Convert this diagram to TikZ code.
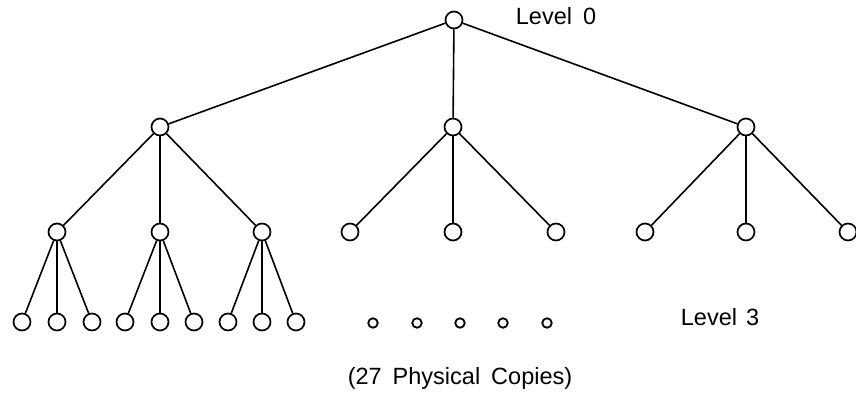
\documentclass[tikz,border=0pt]{standalone}
\usepackage{fontspec}
\setmainfont{Liberation Sans}
\begin{document}
\begin{tikzpicture}[x=1pt,y=-1pt,
  treenode/.style={circle,draw,line width=1.7pt,minimum size=17pt,inner sep=0pt,fill=white},
  copynode/.style={circle,draw,line width=1.8pt,minimum size=9.5pt,inner sep=0pt},
  branch/.style={line width=1.6pt},
  lbl/.style={font=\fontsize{23.5}{27}\selectfont,inner sep=0pt,anchor=base}]
\useasboundingbox (0,0) rectangle (856,395);
% level 0
\node[treenode] (r) at (454,20) {};
% level 1
\node[treenode] (a) at (160,127) {};
\node[treenode] (b) at (453,127) {};
\node[treenode] (c) at (746,127) {};
% level 2
\node[treenode] (a1) at (57,232) {};
\node[treenode] (a2) at (160,232) {};
\node[treenode] (a3) at (262,232) {};
\node[treenode] (b1) at (350,232) {};
\node[treenode] (b2) at (453,232) {};
\node[treenode] (b3) at (556,232) {};
\node[treenode] (c1) at (645,232) {};
\node[treenode] (c2) at (746,232) {};
\node[treenode] (c3) at (848,232) {};
% level 3
\node[treenode] (a11) at (22,322) {};
\node[treenode] (a12) at (57,322) {};
\node[treenode] (a13) at (92,322) {};
\node[treenode] (a21) at (125,322) {};
\node[treenode] (a22) at (160,322) {};
\node[treenode] (a23) at (194,322) {};
\node[treenode] (a31) at (228,322) {};
\node[treenode] (a32) at (262,322) {};
\node[treenode] (a33) at (296,322) {};
% remaining copies
\node[copynode] (d1) at (373,323) {};
\node[copynode] (d2) at (417,323) {};
\node[copynode] (d3) at (460,323) {};
\node[copynode] (d4) at (503,323) {};
\node[copynode] (d5) at (547,323) {};
% branches
\foreach \p/\q in {r/a,r/b,r/c,a/a1,a/a2,a/a3,b/b1,b/b2,b/b3,c/c1,c/c2,c/c3,
  a1/a11,a1/a12,a1/a13,a2/a21,a2/a22,a2/a23,a3/a31,a3/a32,a3/a33}
  \draw[branch] (\p) -- (\q);
% labels
\node[lbl] (l0) at (556,25) {Level\hspace{11pt}0};
\node[lbl] (l3) at (720,325) {Level\hspace{9pt}3};
\node[lbl] (cap) at (460,384) {(27\hspace{11pt}Physical\hspace{11pt}Copies)};
\end{tikzpicture}
\end{document}
